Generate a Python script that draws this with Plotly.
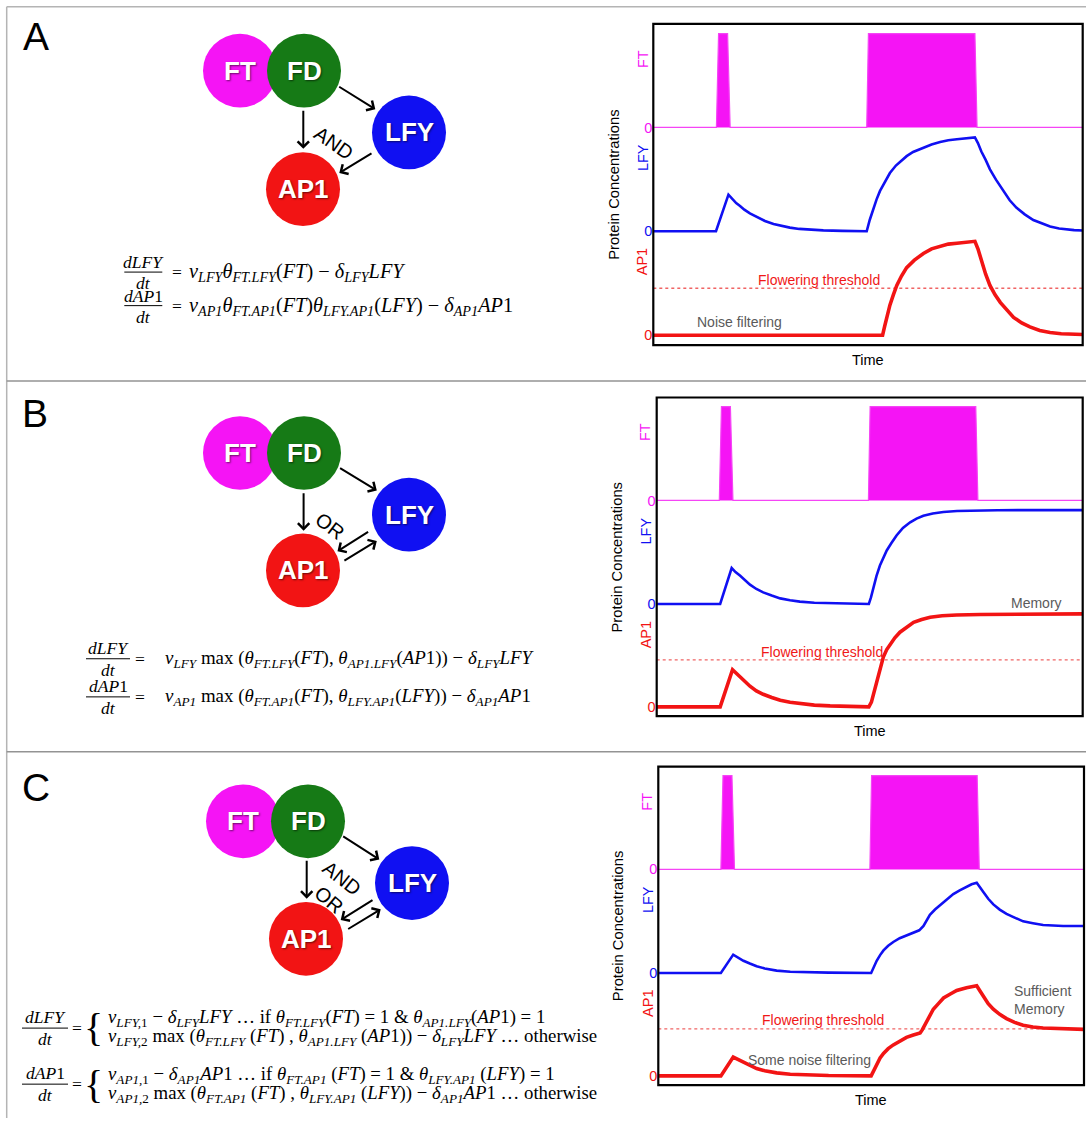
import plotly.graph_objects as go

W, H = 1086, 1123

# ---------------- data ----------------
TIME_FT = [0, 14.7, 15.2, 17.3, 17.9, 49.7, 50.1, 74.9, 75.4, 100]
FT_LEVEL = [0, 0, 1, 1, 0, 0, 1, 1, 0, 0]

A_LFY_T = [0, 14.6, 17.5, 18.5, 19.3, 20.2, 21.2, 22.5, 24.1, 26.0, 28.0, 30.0, 31.8, 34.0, 36.5, 39.6,
           44.0, 49.7, 50.4, 51.2, 52.0, 52.8, 53.8, 55.1, 56.5, 58.0, 59.0, 60.5, 62.9, 64.8, 66.8,
           68.7, 70.7, 72.8, 74.9, 75.6, 76.4, 77.4, 78.4, 79.8, 81.5, 83.0, 84.6, 86.5, 88.5, 90.5,
           92.4, 94.5, 96.3, 98.0, 100]
A_LFY = [0, 0, 0.39, 0.34, 0.30, 0.27, 0.23, 0.19, 0.15, 0.11, 0.078, 0.055, 0.039, 0.025, 0.016, 0.01,
         0.004, 0, 0.12, 0.24, 0.34, 0.43, 0.52, 0.62, 0.70, 0.76, 0.80, 0.845, 0.89, 0.925, 0.95,
         0.97, 0.98, 0.99, 1.0, 0.94, 0.85, 0.76, 0.66, 0.55, 0.43, 0.33, 0.25, 0.18, 0.12, 0.08,
         0.05, 0.03, 0.02, 0.012, 0.008]
A_AP1_T = [0, 53.4, 53.9, 54.3, 55.1, 55.9, 56.7, 57.8, 59.0, 60.8, 62.9, 64.8, 66.8, 68.7, 70.7, 72.8,
           74.9, 75.6, 76.5, 77.4, 78.4, 79.6, 80.8, 82.3, 83.9, 85.8, 87.7, 90.0, 92.4, 95.0, 100]
A_AP1 = [0, 0, 0.10, 0.18, 0.32, 0.43, 0.53, 0.63, 0.72, 0.80, 0.87, 0.92, 0.95, 0.97, 0.98, 0.99,
         1.0, 0.92, 0.78, 0.65, 0.53, 0.43, 0.35, 0.27, 0.19, 0.13, 0.088, 0.05, 0.028, 0.015, 0.007]

B_LFY_T = [0, 14.9, 17.6, 18.5, 19.6, 20.7, 21.9, 23.4, 25.0, 27.0, 29.0, 31.3, 33.6, 37.0, 40.7, 45.0,
           49.8, 50.3, 50.9, 51.6, 52.4, 53.2, 54.0, 55.1, 56.3, 57.8, 59.5, 61.0, 62.6, 64.8, 67.3,
           70.5, 74.3, 80.0, 86.1, 100]
B_LFY = [0, 0, 0.383, 0.34, 0.30, 0.25, 0.206, 0.16, 0.124, 0.09, 0.06, 0.04, 0.025, 0.013, 0.007, 0.003,
         0, 0.07, 0.177, 0.30, 0.41, 0.50, 0.57, 0.65, 0.73, 0.81, 0.87, 0.91, 0.94, 0.965, 0.98,
         0.99, 0.996, 0.999, 1.0, 1.0]
B_AP1_T = [0, 14.9, 17.8, 18.6, 19.6, 20.7, 21.9, 23.4, 25.0, 27.0, 29.0, 31.3, 33.6, 37.0, 40.7, 45.0,
           49.8, 50.4, 50.9, 51.5, 52.0, 52.6, 53.2, 54.0, 54.8, 55.9, 57.1, 58.6, 60.3, 62.2, 64.2,
           67.0, 70.4, 76.0, 82.2, 90.0, 100]
B_AP1 = [0, 0, 0.396, 0.36, 0.32, 0.27, 0.22, 0.17, 0.134, 0.10, 0.07, 0.048, 0.032, 0.018, 0.01, 0.004,
         0, 0.05, 0.14, 0.25, 0.35, 0.44, 0.53, 0.61, 0.67, 0.735, 0.795, 0.85, 0.90, 0.93, 0.954,
         0.97, 0.979, 0.984, 0.986, 0.988, 0.99]

C_LFY_T = [0, 14.7, 17.6, 18.5, 20.0, 21.5, 23.1, 25.0, 27.8, 31.0, 34.8, 40.0, 50.0, 50.6, 51.3, 52.1,
           52.9, 54.0, 55.2, 56.7, 58.3, 59.8, 61.3, 62.3, 63.0, 63.8, 65.0, 66.2, 67.7, 69.3, 70.8,
           72.4, 73.6, 74.8, 75.5, 76.4, 77.5, 78.7, 80.2, 81.8, 83.7, 85.7, 88.0, 90.4, 95.1, 100]
C_LFY = [0, 0, 0.195, 0.17, 0.13, 0.10, 0.071, 0.048, 0.025, 0.013, 0.007, 0.003, 0, 0.06, 0.13, 0.19,
         0.24, 0.29, 0.33, 0.37, 0.40, 0.43, 0.454, 0.50, 0.56, 0.62, 0.675, 0.72, 0.78, 0.84, 0.88,
         0.92, 0.945, 0.96, 0.92, 0.86, 0.79, 0.73, 0.675, 0.63, 0.59, 0.55, 0.53, 0.51, 0.50, 0.50]
C_AP1_T = [0, 14.7, 17.6, 18.5, 20.0, 21.5, 23.1, 25.0, 27.8, 31.0, 34.8, 40.0, 50.0, 50.6, 51.3, 52.1,
           52.9, 54.0, 55.2, 56.7, 58.3, 59.9, 61.5, 62.0, 62.6, 63.6, 64.6, 65.8, 67.0, 68.5, 70.1,
           72.4, 74.8, 75.5, 76.4, 77.5, 78.7, 80.2, 81.8, 83.7, 85.7, 88.0, 90.4, 95.1, 100]
C_AP1 = [0, 0, 0.20, 0.18, 0.14, 0.11, 0.078, 0.055, 0.032, 0.018, 0.01, 0.004, 0, 0.06, 0.13, 0.19,
         0.24, 0.29, 0.33, 0.37, 0.41, 0.435, 0.456, 0.49, 0.54, 0.63, 0.71, 0.77, 0.83, 0.87, 0.91,
         0.94, 0.96, 0.91, 0.84, 0.77, 0.71, 0.655, 0.61, 0.57, 0.54, 0.52, 0.51, 0.50, 0.495]

FLOWERING_THRESHOLD = 0.5

PANEL_LETTERS = ["A", "B", "C"]
BAND_LABELS = ["FT", "LFY", "AP1"]
Y_TICK_LABELS = ["0"]
X_TITLE = "Time"
Y_TITLE = "Protein Concentrations"
NODE_LABELS = ["FT", "FD", "LFY", "AP1"]
GATE_LABELS = [["AND"], ["OR"], ["AND", "OR"]]
NOTES = [
    [("Flowering threshold", "red"), ("Noise filtering", "gray")],
    [("Flowering threshold", "red"), ("Memory", "gray")],
    [("Flowering threshold", "red"), ("Some noise filtering", "gray"), ("Sufficient<br>Memory", "gray")],
]

PANEL_SERIES = [
    (A_LFY_T, A_LFY, A_AP1_T, A_AP1),
    (B_LFY_T, B_LFY, B_AP1_T, B_AP1),
    (C_LFY_T, C_LFY, C_AP1_T, C_AP1),
]

# ---------------- equation texts ----------------
def v(s):
    return f"<i>{s}</i>"


def sb(s):
    return f"<sub>{s}</sub>"


NU, TH, DE = "ν", "θ", "δ"
AP1 = v("AP") + "1"
EQ_A1 = v(NU) + sb(v("LFY")) + v(TH) + sb(v("FT.LFY")) + "(" + v("FT") + ") − " + v(DE) + sb(v("LFY")) + v("LFY")
EQ_A2 = (v(NU) + sb(v("AP1")) + v(TH) + sb(v("FT.AP1")) + "(" + v("FT") + ")" + v(TH) + sb(v("LFY.AP1"))
         + "(" + v("LFY") + ") − " + v(DE) + sb(v("AP1")) + AP1)
EQ_B1 = (v(NU) + sb(v("LFY")) + " max (" + v(TH) + sb(v("FT.LFY")) + "(" + v("FT") + "), " + v(TH)
         + sb(v("AP1.LFY")) + "(" + AP1 + ")) − " + v(DE) + sb(v("LFY")) + v("LFY"))
EQ_B2 = (v(NU) + sb(v("AP1")) + " max (" + v(TH) + sb(v("FT.AP1")) + "(" + v("FT") + "), " + v(TH)
         + sb(v("LFY.AP1")) + "(" + v("LFY") + ")) − " + v(DE) + sb(v("AP1")) + AP1)
EQ_C_L1 = (v(NU) + sb(v("LFY,") + "1") + " − " + v(DE) + sb(v("LFY")) + v("LFY") + " … if " + v(TH)
           + sb(v("FT.LFY")) + "(" + v("FT") + ") = 1 &amp; " + v(TH) + sb(v("AP1.LFY")) + "(" + AP1 + ") = 1")
EQ_C_L2 = (v(NU) + sb(v("LFY,") + "2") + " max (" + v(TH) + sb(v("FT.LFY")) + " (" + v("FT") + ") , "
           + v(TH) + sb(v("AP1.LFY")) + " (" + AP1 + ")) − " + v(DE) + sb(v("LFY")) + v("LFY") + " … otherwise")
EQ_C_A1 = (v(NU) + sb(v("AP1,") + "1") + " − " + v(DE) + sb(v("AP1")) + AP1 + " … if " + v(TH)
           + sb(v("FT.AP1")) + " (" + v("FT") + ") = 1 &amp; " + v(TH) + sb(v("LFY.AP1")) + " (" + v("LFY") + ") = 1")
EQ_C_A2 = (v(NU) + sb(v("AP1,") + "2") + " max (" + v(TH) + sb(v("FT.AP1")) + " (" + v("FT") + ") , "
           + v(TH) + sb(v("LFY.AP1")) + " (" + v("LFY") + ")) − " + v(DE) + sb(v("AP1")) + AP1 + " … otherwise")
NUM_LFY = v("dLFY")
NUM_AP1 = v("dAP") + "1"
DEN = v("dt")

# ---------------- layout constants (pixels) ----------------
MAGENTA = "#f514f5"
GREEN = "#167a16"
BLUE = "#1010f2"
RED = "#f21414"
SANS = "Liberation Sans"
SERIF = "Liberation Serif"

BOXES = [
    dict(left=653.3, right=1082.7, top=24.0, bottom=346.7, zft=128.0, zlfy=232.3, zap1=336.7),
    dict(left=656.7, right=1082.7, top=399.3, bottom=719.3, zft=502.7, zlfy=606.7, zap1=710.0),
    dict(left=658.3, right=1084.0, top=770.0, bottom=1090.0, zft=873.3, zlfy=977.3, zap1=1080.7),
]
S = 94.3  # pixels per concentration unit

NOTE_POS = [
    [(819, 281.7, "center"), (739.7, 323.3, "center")],
    [(821.7, 655, "center"), (1036, 606, "center")],
    [(823, 1025, "center"), (809, 1065, "center"), (1011.7, 1004.5, "left")],
]
LETTER_POS = [(36, 37), (35, 415), (36, 791)]
NODE_CENTERS = [
    [(240, 71), (304, 71), (409, 133), (303, 190)],
    [(240, 455), (304, 455), (409, 517), (303, 573)],
    [(243, 825), (308, 825), (412, 887), (306, 943)],
]
ARROWS = [
    [((337.7, 86.3), (375.3, 109.8)), ((303.3, 110.0), (303.3, 149.5)), ((373.0, 153.3), (339.3, 173.8))],
    [((338.6, 469.3), (376.8, 492.7)), ((303.6, 494.0), (303.6, 533.0)), ((369.6, 533.3), (337.5, 553.8)),
     ((342.9, 564.0), (376.8, 543.3))],
    [((341.7, 839.3), (379.3, 863.3)), ((306.7, 863.3), (306.7, 902.7)), ((374.0, 903.3), (340.7, 924.0)),
     ((346.7, 934.0), (380.7, 913.3))],
]
GATE_POS = [[(334, 143.3, 35)], [(330, 528.3, 37)], [(341.7, 881.7, 38), (329.3, 904, 40)]]

R_NODE = 37


def px(x):
    return x / W


def py(y):
    return 1 - y / H


fig = go.Figure()
layout = dict(
    width=W, height=H, autosize=False,
    margin=dict(l=0, r=0, t=0, b=0),
    paper_bgcolor="white", plot_bgcolor="white",
    showlegend=False,
)
shapes = []
annotations = []


def text(x, y, t, size, color="black", family=SANS, xanchor="center", angle=0, **kw):
    d = dict(xref="paper", yref="paper", x=px(x), y=py(y), text=t, showarrow=False,
             xanchor=xanchor, yanchor="middle", textangle=angle,
             font=dict(family=family, size=size, color=color))
    if kw:
        d["font"].update(kw)
    annotations.append(d)


# ---------------- frame ----------------
shapes.append(dict(type="line", xref="paper", yref="paper", x0=px(6.7), x1=px(W), y0=py(6.7), y1=py(6.7),
                   line=dict(color="#b4b4b4", width=1.5)))
shapes.append(dict(type="line", xref="paper", yref="paper", x0=px(6.7), x1=px(6.7), y0=py(6.7), y1=py(H),
                   line=dict(color="#b4b4b4", width=1.5)))
for ys in (382.7, 755.0):
    shapes.append(dict(type="line", xref="paper", yref="paper", x0=px(6.7), x1=px(W), y0=py(ys), y1=py(ys),
                       line=dict(color="#939393", width=1.5)))

band_colors = [MAGENTA, BLUE, RED]

for i, (box, series) in enumerate(zip(BOXES, PANEL_SERIES)):
    xid = "" if i == 0 else str(i + 1)
    xref = "x" + xid
    yids = [str(3 * i + j + 1) for j in range(3)]
    yrefs = ["y" + ("" if k == "1" else k) for k in yids]
    ykeys = ["yaxis" + ("" if k == "1" else k) for k in yids]

    bands = [
        (box["zft"] + 3, box["top"], box["zft"]),
        (box["zlfy"] + 3, box["zft"] + 3, box["zlfy"]),
        (box["bottom"], box["zlfy"] + 3, box["zap1"]),
    ]
    for j, (bpx, tpx, zpx) in enumerate(bands):
        layout[ykeys[j]] = dict(
            domain=[py(bpx), py(tpx)],
            range=[-(bpx - zpx) / S, (zpx - tpx) / S],
            anchor=xref, showgrid=False, zeroline=False, showline=False, ticks="",
            tickmode="array", tickvals=[0], ticktext=Y_TICK_LABELS,
            tickfont=dict(family=SANS, size=14.5, color=band_colors[j]),
            fixedrange=True,
        )
    layout["xaxis" + xid] = dict(domain=[px(box["left"]), px(box["right"])], range=[0, 100],
                                 anchor=yrefs[2], visible=False, fixedrange=True)

    t_lfy, lfy, t_ap1, ap1 = series
    fig.add_trace(go.Scatter(x=TIME_FT, y=FT_LEVEL, mode="lines", fill="tozeroy", fillcolor=MAGENTA,
                             line=dict(color="#f545f5", width=1.2), xaxis=xref, yaxis=yrefs[0],
                             hoverinfo="skip"))
    fig.add_trace(go.Scatter(x=t_lfy, y=lfy, mode="lines", line=dict(color=BLUE, width=2.6),
                             xaxis=xref, yaxis=yrefs[1], hoverinfo="skip"))
    fig.add_trace(go.Scatter(x=t_ap1, y=ap1, mode="lines", line=dict(color=RED, width=3.6),
                             xaxis=xref, yaxis=yrefs[2], hoverinfo="skip"))

    shapes.append(dict(type="line", xref=xref + " domain", x0=0, x1=1, yref=yrefs[2],
                       y0=FLOWERING_THRESHOLD, y1=FLOWERING_THRESHOLD,
                       line=dict(color="#f06464", width=1.3, dash="dot"), layer="below"))
    shapes.append(dict(type="rect", xref="paper", yref="paper", x0=px(box["left"]), x1=px(box["right"]),
                       y0=py(box["bottom"]), y1=py(box["top"]), line=dict(color="black", width=2.2)))

    # band labels
    lab_y = [box["top"] + 35, box["zft"] + 30.5, box["zlfy"] + 30.8]
    for j in range(3):
        text(box["left"] - 11, lab_y[j], BAND_LABELS[j], 14.5, band_colors[j], angle=-90)
    text(box["left"] - 40, (box["top"] + box["bottom"]) / 2, Y_TITLE, 14.8, angle=-90)
    text((box["left"] + box["right"]) / 2, box["bottom"] + 14.5, X_TITLE, 14.5)

    for (note, kind), (nx, ny, anc) in zip(NOTES[i], NOTE_POS[i]):
        col = "#f01818" if kind == "red" else "#5a5a5a"
        annotations.append(dict(xref="paper", yref="paper", x=px(nx), y=py(ny), text=note, showarrow=False,
                                xanchor=anc, yanchor="middle", align="left",
                                font=dict(family=SANS, size=14, color=col)))

    # ----- network diagram -----
    text(LETTER_POS[i][0], LETTER_POS[i][1], PANEL_LETTERS[i], 39)
    node_cols = [MAGENTA, GREEN, BLUE, RED]
    for k, ((cx, cy), col) in enumerate(zip(NODE_CENTERS[i], node_cols)):
        shapes.append(dict(type="circle", xref="paper", yref="paper", x0=px(cx - R_NODE), x1=px(cx + R_NODE),
                           y0=py(cy + R_NODE), y1=py(cy - R_NODE), fillcolor=col, line=dict(width=0)))
    for k, (cx, cy) in enumerate(NODE_CENTERS[i]):
        annotations.append(dict(xref="paper", yref="paper", x=px(cx), y=py(cy), text="<b>" + NODE_LABELS[k] + "</b>",
                                showarrow=False, xanchor="center", yanchor="middle",
                                font=dict(family=SANS, size=26, color="white",
                                          shadow="1px 1px 2px rgba(0,0,0,0.55)")))
    for (tx, ty), (hx, hy) in ARROWS[i]:
        annotations.append(dict(xref="paper", yref="paper", x=px(hx), y=py(hy), ax=tx - hx, ay=ty - hy,
                                axref="pixel", ayref="pixel", text="", showarrow=True, arrowhead=4,
                                arrowsize=1.1, arrowwidth=2, arrowcolor="black", standoff=0, startstandoff=0))
    for g, (gx, gy, ang) in zip(GATE_LABELS[i], GATE_POS[i]):
        text(gx, gy, g, 20, angle=ang)


# ---------------- equations ----------------
def fraction(num, cx, ynum, ybar, yden, hw, size):
    text(cx, ynum, num, size, family=SERIF)
    text(cx, yden, DEN, size, family=SERIF)
    shapes.append(dict(type="line", xref="paper", yref="paper", x0=px(cx - hw), x1=px(cx + hw),
                       y0=py(ybar), y1=py(ybar), line=dict(color="black", width=1)))


FR = 17.5
EQA, EQB, EQC = 20.3, 18.9, 18.8
# panel A
fraction(NUM_LFY, 143.3, 263.0, 273.3, 284.0, 19, FR)
text(177.3, 273.3, "=", FR, family=SERIF)
text(187.3, 273.3, EQ_A1, EQA, family=SERIF, xanchor="left")
fraction(NUM_AP1, 143.3, 297.0, 307.0, 318.0, 19, FR)
text(177.3, 307.5, "=", FR, family=SERIF)
text(187.3, 307.5, EQ_A2, EQA, family=SERIF, xanchor="left")
# panel B
fraction(NUM_LFY, 108, 650.5, 661.7, 672.5, 22, FR)
text(140, 661.7, "=", FR, family=SERIF)
text(163.3, 661.7, EQ_B1, EQB, family=SERIF, xanchor="left")
fraction(NUM_AP1, 108, 689.5, 700.0, 711.0, 22, FR)
text(140, 700.5, "=", FR, family=SERIF)
text(163.3, 700.5, EQ_B2, EQB, family=SERIF, xanchor="left")
# panel C
fraction(NUM_LFY, 45, 1021.5, 1032.7, 1043.5, 23, FR)
text(77, 1032.7, "=", FR, family=SERIF)
text(93.5, 1032.5, "{", 40, family=SERIF)
text(106, 1023.0, EQ_C_L1, EQC, family=SERIF, xanchor="left")
text(106, 1041.5, EQ_C_L2, EQC, family=SERIF, xanchor="left")
fraction(NUM_AP1, 45, 1078.0, 1089.0, 1100.0, 23, FR)
text(77, 1089.0, "=", FR, family=SERIF)
text(93.5, 1089.0, "{", 40, family=SERIF)
text(106, 1080.0, EQ_C_A1, EQC, family=SERIF, xanchor="left")
text(106, 1098.5, EQ_C_A2, EQC, family=SERIF, xanchor="left")

layout["shapes"] = shapes
layout["annotations"] = annotations
fig.update_layout(**layout)
fig.write_html("out.html", config={"displayModeBar": False},
               post_script="document.body.style.margin='0px';document.body.style.overflow='hidden';")
